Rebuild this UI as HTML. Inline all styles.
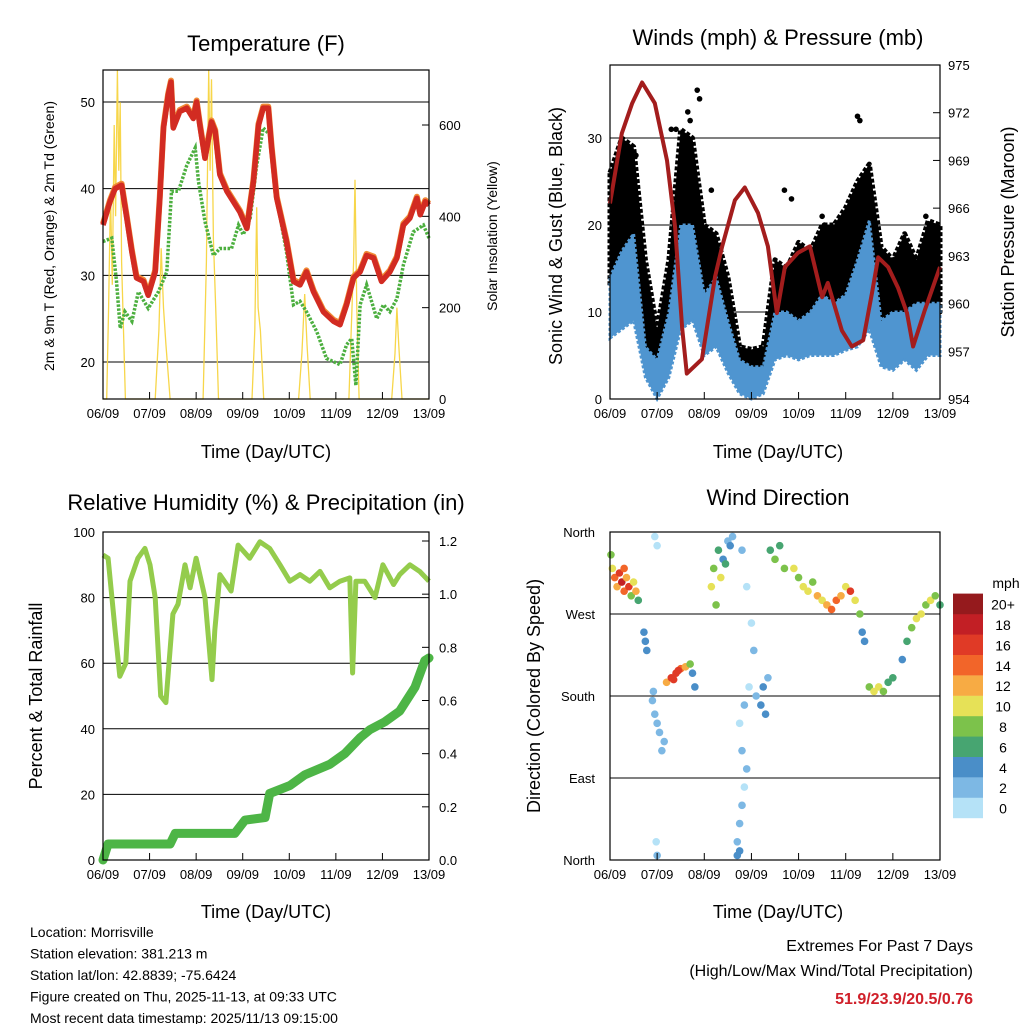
<!DOCTYPE html>
<html><head><meta charset="utf-8"><style>
body{margin:0;background:#fff;}
svg{font-family:"Liberation Sans",sans-serif;}
</style></head><body>
<svg id="s" width="1024" height="1024" viewBox="0 0 1024 1024" xmlns="http://www.w3.org/2000/svg"></svg>
<script>
// ---- Temperature panel data ----
const tTimes=[0,.15,.26,.4,.51,.62,.72,.87,.97,1.12,1.22,1.3,1.4,1.46,1.51,1.65,1.8,1.94,2.01,2.08,2.19,2.33,2.41,2.51,2.66,2.8,2.94,3.09,3.23,3.34,3.44,3.55,3.62,3.73,3.94,4.09,4.23,4.37,4.52,4.73,4.95,5.09,5.23,5.38,5.52,5.66,5.81,5.98,6.16,6.31,6.45,6.59,6.74,6.81,6.92,7];
const tempVals=[35.8,38.5,40,40.4,36.6,32.7,29.7,29.3,27.7,30.4,38.9,47,50.8,52.3,47,48.9,49.3,48.1,50,47.3,43.5,47.7,46.6,41.6,39.7,38.5,37.3,35.4,40.8,47.3,49.3,49.3,44.7,38.9,33.9,29.3,28.9,30.4,28.1,25.8,24.7,24.3,26.6,29.7,30.4,32.3,32,29.3,30.4,32,35.8,36.6,38.9,37,38.5,38.1];
const tdTimes=[0,.19,.29,.37,.47,.62,.76,.97,1.19,1.37,1.47,1.62,1.8,1.98,2.05,2.19,2.37,2.51,2.76,2.91,3.01,3.16,3.3,3.44,3.59,3.73,3.94,4.09,4.23,4.37,4.59,4.8,5.09,5.23,5.34,5.43,5.52,5.66,5.88,6.02,6.16,6.31,6.45,6.66,6.88,7];
const tdVals=[33.9,34.3,29.3,23.9,25.8,24.7,28.1,26.2,28.1,30.4,39.7,39.7,42.7,44.7,40.8,36.2,32.3,33.1,33.1,35.8,34.7,36.6,42.7,47,46.2,38.9,32.7,26.6,27,25.8,23.5,20.4,19.7,22,22.7,17.3,26.6,28.9,25,26.6,25.8,27.3,31.2,35,35.8,34.3];
const solTimes=[0,.08,.12,.16,.2,.24,.27,.31,.34,.37,.4,.44,.48,1.12,1.2,1.25,1.3,1.35,1.44,2.15,2.22,2.27,2.3,2.33,2.37,2.42,2.48,3.2,3.26,3.3,3.33,3.38,3.45,4.2,4.27,4.33,4.38,4.45,5.28,5.33,5.38,5.41,5.45,5.5,6.2,6.27,6.31,6.35,6.42,7];
const solVals=[0,0,200,450,250,600,400,720,500,650,300,150,0,0,150,330,200,120,0,0,300,720,500,700,350,200,0,0,150,420,200,150,0,0,100,230,120,0,0,150,300,480,200,0,0,100,200,120,0,0];
// ---- Wind panel data ----
const wTimes=[0,.25,.5,.75,1,1.25,1.5,1.75,2,2.25,2.5,2.75,3,3.25,3.5,3.75,4,4.25,4.5,4.75,5,5.25,5.5,5.75,6,6.25,6.5,6.75,7];
const gustHi=[26,30,29,16,8,16,31,30,20,19,14,6,5.7,6,16,15,18,17,20,20,22,25,27,17.5,16,19,16,20.5,20];
const gustLo=[13,16,18,6,4,4.5,19,19,10,12,8,4,3.3,3.3,9,10,9,10,12,11,12,15,19,9,9,8,9,10,10];
const windHi=[14,17,19,6,4.5,10,20,20,12,14,9,4.5,3.7,3.7,10,10,9,10,12,11,12,16,20.5,9,10,10,11,11,11];
const windLo=[7,8,9,2.5,0,2.5,8,9,5,6,3,0.6,0,0.6,4.5,5,4.5,5,5,5,5.6,6,8,3.7,3.3,4.5,3.3,5,5];
const gustOutTimes=[1.3,1.4,1.65,1.7,1.85,1.9,2.15,3.85,4.5,4.55,5.25,5.3,6.7,0.55,3.7];
const gustOutVals=[31,31,33,32,35.5,34.5,24,23,21,20,32.5,32,21,28,24];
const presTimes=[0,.25,.47,.68,.95,1.21,1.38,1.53,1.63,1.95,2.23,2.38,2.65,2.86,3.14,3.35,3.54,3.71,3.99,4.24,4.5,4.62,4.92,5.13,5.37,5.56,5.69,5.9,6.11,6.3,6.43,6.68,7];
const presVals=[966.3,970.7,972.6,973.9,972.6,969,964.8,958.5,955.6,956.5,961.7,963.6,966.5,967.3,965.7,963.6,959.4,962.3,963.2,963.6,960.4,961.3,958.3,957.3,957.7,960.7,962.9,962.3,961,959.4,957.3,959.6,962.3];
// ---- RH / rain ----
const rhTimes=[0,.11,.26,.36,.49,.58,.75,.9,1.01,1.12,1.24,1.35,1.5,1.61,1.76,1.87,2.0,2.19,2.34,2.4,2.51,2.75,2.9,3.15,3.37,3.58,3.8,4.01,4.23,4.44,4.66,4.87,5.09,5.3,5.36,5.43,5.62,5.84,6.01,6.24,6.37,6.59,6.8,7];
const rhVals=[93,92,70,56,60,85,92,95,90,80,50,48,75,78,90,83,92,80,55,70,87,82,96,92,97,95,90,85,87,85,88,83,85,86,57,85,85,80,90,84,87,90,88,85];
const rainTimes=[0,.11,1.44,1.55,2.83,3.05,3.48,3.58,4.01,4.33,4.87,5.19,5.52,5.73,6.05,6.37,6.7,6.91,7];
const rainVals=[0,.06,.06,.1,.1,.15,.16,.25,.28,.32,.36,.4,.46,.49,.52,.56,.65,.75,.76];
// ---- Wind direction ----
const dirDays=[0.05,0.1,0.15,0.2,0.25,0.3,0.35,0.4,0.45,0.5,0.55,0.6,0.02,0.3,0.72,0.75,0.78,0.9,0.95,1.0,1.05,1.1,0.92,1.15,0.98,1.0,0.95,1.0,1.2,1.3,1.4,1.5,1.6,1.7,1.75,1.8,1.35,1.45,2.15,2.2,2.3,2.4,2.5,2.6,2.25,2.35,2.45,2.55,2.7,2.75,2.8,2.85,2.9,2.8,2.75,2.85,2.95,3.0,3.05,2.9,2.8,3.1,3.2,3.25,3.3,3.35,2.7,2.75,3.4,3.5,3.6,3.7,3.9,4.0,4.1,4.2,4.3,4.4,4.5,4.6,4.7,4.8,4.9,5.0,5.1,5.2,5.3,5.35,5.4,5.5,5.6,5.7,5.8,5.9,6.0,6.2,6.3,6.4,6.5,6.6,6.7,6.8,6.9,7.0];
const dirDeg=[320,310,300,315,305,295,310,300,290,305,295,285,335,320,250,240,230,175,160,150,140,120,185,130,20,5,355,345,195,200,205,210,212,215,205,190,198,208,300,320,340,330,350,355,280,310,325,345,20,40,60,80,100,120,150,170,190,260,230,300,340,180,170,190,160,200,5,10,340,330,345,320,320,310,300,295,305,290,285,280,275,285,290,300,295,285,270,250,240,190,185,190,185,195,200,220,240,255,265,270,280,285,290,280];
const dirSpd=[10,14,12,16,18,14,12,16,8,10,12,6,8,14,4,5,4,2,3,2,3,2,3,3,1,2,1,1,12,16,17,14,12,8,5,4,17,16,10,8,6,4,3,3,9,10,7,5,2,3,2,1,3,2,1,2,1,1,2,1,2,3,4,5,4,3,4,5,7,8,6,9,10,9,11,10,8,12,11,12,14,15,12,10,16,10,8,5,4,9,10,11,8,7,6,5,6,8,10,11,9,10,8,7];
const spdColors=["#b5e2f7","#7db8e4","#4a8ec8","#47a571","#7cc24b","#e6e157","#f7ab44","#f26529","#e03a26","#c21f25","#951a1d"];
const spdLabels=["0","2","4","6","8","10","12","14","16","18","20+"];
const dayLabels=["06/09","07/09","08/09","09/09","10/09","11/09","12/09","13/09"];

const S=document.getElementById('s');const NS="http://www.w3.org/2000/svg";
function el(tag,attrs,parent){const e=document.createElementNS(NS,tag);for(const k in attrs)e.setAttribute(k,attrs[k]);(parent||S).appendChild(e);return e;}
function txt(x,y,s,size,anchor,extra){const e=el('text',Object.assign({x:x,y:y,'font-size':size,'text-anchor':anchor||'middle',fill:'#000'},extra||{}));e.textContent=s;return e;}
function lin(a,b,c,d){return v=>c+(v-a)*(d-c)/(b-a);}
function pathOf(xs,ys,fx,fy){return xs.map((t,i)=>(i?'L':'M')+fx(t).toFixed(1)+' '+fy(ys[i]).toFixed(1)).join(' ');}
function band(xs,hi,lo,fx,fy){let d=xs.map((t,i)=>(i?'L':'M')+fx(t).toFixed(1)+' '+fy(hi[i]).toFixed(1)).join(' ');for(let i=xs.length-1;i>=0;i--)d+='L'+fx(xs[i]).toFixed(1)+' '+fy(lo[i]).toFixed(1);return d+'Z';}
function frame(x0,x1,y0,y1,g){el('rect',{x:x0,y:y0,width:x1-x0,height:y1-y0,fill:'none',stroke:'#000','stroke-width':1.2},g);}
function xAxis(x0,x1,y1,g,fx){for(let d=0;d<=7;d++){const x=fx(d);el('line',{x1:x,y1:y1,x2:x,y2:y1-7,stroke:'#000'},g);const t=txt(x,y1+19,dayLabels[d],13);}}

// ===== Panel 1: Temperature =====
(function(){
const g=el('g',{});
const X0=103,X1=429,Y0=70,Y1=399;const fx=lin(0,7,X0,X1),fy=lin(20,50,362,102),fs=lin(0,600,399,125);
[20,30,40,50].forEach(v=>{el('line',{x1:X0,x2:X1,y1:fy(v),y2:fy(v),stroke:'#000','stroke-width':1},g);txt(X0-8,fy(v)+5,String(v),13,'end');});
[0,200,400,600].forEach(v=>{el('line',{x1:X1,x2:X1-7,y1:fs(v),y2:fs(v),stroke:'#000'},g);txt(X1+10,fs(v)+5,String(v),13,'start');});
const sol=el('path',{d:pathOf(solTimes,solVals,fx,fs),fill:'none',stroke:'#f7d64a','stroke-width':1.3},g);
const td=el('path',{d:pathOf(tdTimes,tdVals,fx,fy),fill:'none',stroke:'#4caf3f','stroke-width':3.5,'stroke-dasharray':'2.5 1.5'},g);
const t9=el('path',{d:pathOf(tTimes,tempVals,fx,v=>fy(v)-1.5),fill:'none',stroke:'#f08a35','stroke-width':6,'stroke-linejoin':'round'},g);
const t2=el('path',{d:pathOf(tTimes,tempVals,fx,fy),fill:'none',stroke:'#d22b22','stroke-width':5.5,'stroke-linejoin':'round'},g);
frame(X0,X1,Y0,Y1,g);xAxis(X0,X1,Y1,g,fx);
const ti=txt(266,51,'Temperature (F)',22);
txt(266,458,'Time (Day/UTC)',18);
const yl=txt(0,0,'2m & 9m T (Red, Orange) & 2m Td (Green)',14,'middle',{transform:'translate(54,236) rotate(-90)'});
txt(0,0,'Solar Insolation (Yellow)',14,'middle',{transform:'translate(497,236) rotate(-90)'});
})();

// ===== Panel 2: Winds =====
(function(){
const g=el('g',{});
const X0=610,X1=940,Y0=65,Y1=399;const fx=lin(0,7,X0,X1),fy=lin(0,30,399,138),fp=lin(954,975,399,65);
[10,20,30].forEach(v=>{el('line',{x1:X0,x2:X1,y1:fy(v),y2:fy(v),stroke:'#000'},g);});
[0,10,20,30].forEach(v=>txt(X0-8,fy(v)+5,String(v),13,'end'));
[954,957,960,963,966,969,972,975].forEach(v=>{el('line',{x1:X1,x2:X1-7,y1:fp(v),y2:fp(v),stroke:'#000'},g);txt(X1+8,fp(v)+5,String(v),13,'start');});
const gb=el('path',{d:band(wTimes,gustHi,gustLo,fx,fy),fill:'#000',stroke:'#000','stroke-width':5,'stroke-linejoin':'round','stroke-dasharray':'4 2'},g);
gustOutTimes.forEach((t,i)=>{const c=el('circle',{cx:fx(t),cy:fy(gustOutVals[i]),r:2.8,fill:'#000'},g);

});
const wb=el('path',{d:band(wTimes,windHi,windLo,fx,fy),fill:'#4f95d0',stroke:'#4f95d0','stroke-width':3,'stroke-dasharray':'3 2'},g);
const pl=el('path',{d:pathOf(presTimes,presVals,fx,fp),fill:'none',stroke:'#a31d1d','stroke-width':4,'stroke-linejoin':'round'},g);
frame(X0,X1,Y0,Y1,g);xAxis(X0,X1,Y1,g,fx);
const ti=txt(778,45,'Winds (mph) & Pressure (mb)',22);
txt(778,458,'Time (Day/UTC)',18);
txt(0,0,'Sonic Wind & Gust (Blue, Black)',18,'middle',{transform:'translate(562,236) rotate(-90)'});
txt(0,0,'Station Pressure (Maroon)',18,'middle',{transform:'translate(1014,232) rotate(-90)'});
})();

// ===== Panel 3: RH & Precip =====
(function(){
const g=el('g',{});
const X0=103,X1=429,Y0=532,Y1=860;const fx=lin(0,7,X0,X1),fy=lin(0,100,860,532),fr=lin(0,1.2,860,541);
[20,40,60,80].forEach(v=>el('line',{x1:X0,x2:X1,y1:fy(v),y2:fy(v),stroke:'#000'},g));
[0,20,40,60,80,100].forEach(v=>txt(X0-8,fy(v)+5,String(v),13,'end'));
[0,.2,.4,.6,.8,1,1.2].forEach(v=>{el('line',{x1:X1,x2:X1-7,y1:fr(v),y2:fr(v),stroke:'#000'},g);txt(X1+10,fr(v)+5,v.toFixed(1),13,'start');});
const rh=el('path',{d:pathOf(rhTimes,rhVals,fx,fy),fill:'none',stroke:'#94cc4c','stroke-width':5,'stroke-linejoin':'round'},g);
const rn=el('path',{d:pathOf(rainTimes,rainVals,fx,fr),fill:'none',stroke:'#4db546','stroke-width':9,'stroke-linejoin':'round','stroke-linecap':'round'},g);
frame(X0,X1,Y0,Y1,g);xAxis(X0,X1,Y1,g,fx);
const ti=txt(266,510,'Relative Humidity (%) & Precipitation (in)',22);
txt(266,918,'Time (Day/UTC)',18);
txt(0,0,'Percent & Total Rainfall',18,'middle',{transform:'translate(42,696) rotate(-90)'});
})();

// ===== Panel 4: Wind direction =====
(function(){
const g=el('g',{});
const X0=610,X1=940,Y0=532,Y1=860;const fx=lin(0,7,X0,X1),fy=lin(0,360,860,532);
[90,180,270].forEach(v=>el('line',{x1:X0,x2:X1,y1:fy(v),y2:fy(v),stroke:'#000'},g));
['North','East','South','West','North'].forEach((s,i)=>txt(X0-15,fy(i*90)+5,s,13,'end'));
dirDays.forEach((d,i)=>{const b=Math.min(10,Math.floor(dirSpd[i]/2));const c=el('circle',{cx:fx(d),cy:fy(dirDeg[i]),r:3.8,fill:spdColors[b]},g);

});
frame(X0,X1,Y0,Y1,g);xAxis(X0,X1,Y1,g,fx);
const ti=txt(778,505,'Wind Direction',22);
txt(778,918,'Time (Day/UTC)',18);
txt(0,0,'Direction (Colored By Speed)',18,'middle',{transform:'translate(540,696) rotate(-90)'});
const lg=el('g',{});
txt(1006,588,'mph',14,'middle');
spdColors.forEach((c,i)=>{const y=818-(i+1)*20.4;el('rect',{x:953,y:y,width:30,height:20.6,fill:c},lg);txt(1003,y+16,spdLabels[i],14,'middle');});
})();

// ===== Footer =====
const info=["Location: Morrisville","Station elevation: 381.213 m","Station lat/lon: 42.8839; -75.6424","Figure created on Thu, 2025-11-13, at 09:33 UTC","Most recent data timestamp: 2025/11/13 09:15:00"];
info.forEach((s,i)=>{const t=txt(30,937+i*21.5,s,14,'start');});
txt(973,951,'Extremes For Past 7 Days',16,'end');
txt(973,976,'(High/Low/Max Wind/Total Precipitation)',16,'end');
const ex=txt(973,1004,'51.9/23.9/20.5/0.76',16,'end',{fill:'#d0202a','font-weight':'bold'});
</script>
</body></html>
